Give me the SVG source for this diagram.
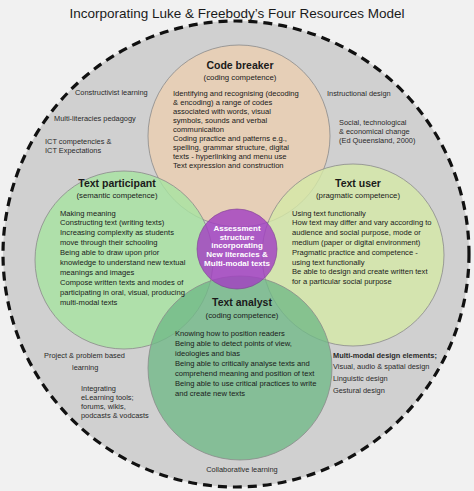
<svg xmlns="http://www.w3.org/2000/svg" width="474" height="491" viewBox="0 0 474 491">
<style>
text{font-family:"Liberation Sans",Arial,sans-serif;fill:#1a1a1a}
.t{font-size:13.5px;text-anchor:middle}
.h{font-size:10.5px;font-weight:bold;text-anchor:middle}
.s{font-size:7.8px;text-anchor:middle}
.b{font-size:7.6px}
.o{font-size:7.4px;fill:#2a2a2a}
.w{font-size:8px;font-weight:bold;fill:#fff;text-anchor:middle}
.c{stroke:#8a8a8a;stroke-width:0.8}
</style>
<rect width="474" height="491" fill="#f1f1f1"/>
<text class="t" x="237" y="18">Incorporating Luke &amp; Freebody’s Four Resources Model</text>
<g id="outer">
<circle cx="236" cy="254" r="233" fill="#d0d0d0" stroke="#111" stroke-width="3.2" stroke-dasharray="9,6"/>
</g>
<g id="codebreaker">
<circle class="c" cx="239" cy="136" r="91" fill="#e8ceb3" fill-opacity="0.88"/>
</g>
<g id="participant">
<circle class="c" cx="124" cy="260" r="89" fill="#a6e3a0" fill-opacity="0.8"/>
</g>
<g id="user">
<circle class="c" cx="353" cy="255" r="91" fill="#d5e9a6" fill-opacity="0.8"/>
</g>
<g id="analyst">
<circle class="c" cx="240" cy="368" r="92" fill="#6fb987" fill-opacity="0.78"/>
</g>
<g id="center">
<circle cx="237" cy="249" r="40" fill="#a23fc2" fill-opacity="0.82" stroke="#7a3a90" stroke-width="0.6"/>
<text class="w" x="237" y="230.5">Assessment</text>
<text class="w" x="237" y="239.5">structure</text>
<text class="w" x="237" y="248">incorporating</text>
<text class="w" x="237" y="257">New literacies &amp;</text>
<text class="w" x="237" y="266">Multi-modal texts</text>
</g>
<g id="codebreaker-text">
<text class="h" x="240" y="69">Code breaker</text>
<text class="s" x="240" y="80">(coding competence)</text>
<text class="b" x="173" y="95.5">Identifying and recognising (decoding</text>
<text class="b" x="173" y="104.5">&amp; encoding) a range of codes</text>
<text class="b" x="173" y="113.5">associated with words, visual</text>
<text class="b" x="173" y="122.5">symbols, sounds and verbal</text>
<text class="b" x="173" y="131.5">communicaiton</text>
<text class="b" x="173" y="140.5">Coding practice and patterns e.g.,</text>
<text class="b" x="173" y="149.5">spelling, grammar structure, digital</text>
<text class="b" x="173" y="158.5">texts - hyperlinking and menu use</text>
<text class="b" x="173" y="167.5">Text expression and construction</text>
</g>
<g id="participant-text">
<text class="h" x="117" y="187">Text participant</text>
<text class="s" x="117" y="198">(semantic competence)</text>
<text class="b" x="60" y="215.5">Making meaning</text>
<text class="b" x="60" y="225.4">Constructing text (writing texts)</text>
<text class="b" x="60" y="235.4">Increasing complexity as students</text>
<text class="b" x="60" y="245.3">move through their schooling</text>
<text class="b" x="60" y="255.3">Being able to draw upon prior</text>
<text class="b" x="60" y="265.2">knowledge to understand new textual</text>
<text class="b" x="60" y="275.2">meanings and images</text>
<text class="b" x="60" y="285.1">Compose written texts and modes of</text>
<text class="b" x="60" y="295.1">participating in oral, visual, producing</text>
<text class="b" x="60" y="305">multi-modal texts</text>
</g>
<g id="user-text">
<text class="h" x="358" y="187">Text user</text>
<text class="s" x="358" y="198">(pragmatic competence)</text>
<text class="b" x="292" y="215.5">Using text functionally</text>
<text class="b" x="292" y="225.3">How text may differ and vary according to</text>
<text class="b" x="292" y="235.1">audience and social purpose, mode or</text>
<text class="b" x="292" y="244.9">medium (paper or digital environment)</text>
<text class="b" x="292" y="254.7">Pragmatic practice and competence -</text>
<text class="b" x="292" y="264.5">using text functionally</text>
<text class="b" x="292" y="274.3">Be able to design and create written text</text>
<text class="b" x="292" y="284.1">for a particular social purpose</text>
</g>
<g id="analyst-text">
<text class="h" x="242" y="306">Text analyst</text>
<text class="s" x="242" y="318">(coding competence)</text>
<text class="b" x="175" y="336">Knowing how to position readers</text>
<text class="b" x="175" y="346">Being able to detect points of view,</text>
<text class="b" x="175" y="356">ideologies and bias</text>
<text class="b" x="175" y="366">Being able to critically analyse texts and</text>
<text class="b" x="175" y="376">comprehend meaning and position of text</text>
<text class="b" x="175" y="386">Being able to use critical practices to write</text>
<text class="b" x="175" y="396">and create new texts</text>
</g>
<g id="ring-text">
<text class="o" x="75" y="95">Constructivist learning</text>
<text class="o" x="54" y="120.5">Multi-literacies pedagogy</text>
<text class="o" x="45" y="143.5">ICT competencies &amp;</text>
<text class="o" x="45" y="153">ICT Expectations</text>
<text class="o" x="327" y="95.5">Instructional design</text>
<text class="o" x="339" y="124.5">Social, technological</text>
<text class="o" x="339" y="133.5">&amp; economical change</text>
<text class="o" x="339" y="142.5">(Ed Queensland, 2000)</text>
<text class="o" x="44" y="357.5">Project &amp; problem based</text>
<text class="o" x="72" y="369.5">learning</text>
<text class="o" x="81" y="390.5">Integrating</text>
<text class="o" x="81" y="399.5">eLearning tools;</text>
<text class="o" x="81" y="409">forums, wikis,</text>
<text class="o" x="81" y="418">podcasts &amp; vodcasts</text>
<text class="o" x="333" y="357.5" font-weight="bold">Multi-modal design elements;</text>
<text class="o" x="333" y="368.5">Visual, audio &amp; spatial design</text>
<text class="o" x="333" y="380.5">Linguistic design</text>
<text class="o" x="333" y="392.5">Gestural design</text>
<text class="o" x="242" y="471.5" text-anchor="middle">Collaborative learning</text>
</g>
</svg>
